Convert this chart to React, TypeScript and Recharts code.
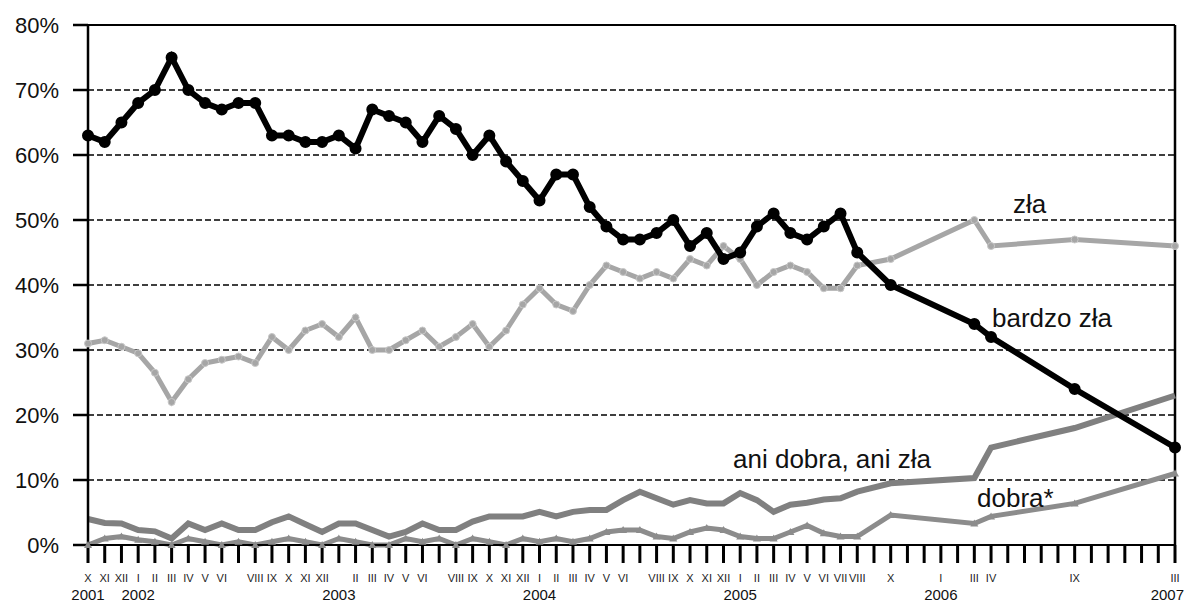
import { LineChart, Line, XAxis, YAxis, CartesianGrid, ReferenceLine } from "recharts"

const months = [
  "X", "XI", "XII", "I", "II", "III", "IV", "V", "VI", "", "VIII", "IX", "X", "XI", "XII",
  "", "II", "III", "IV", "V", "VI", "", "VIII", "IX", "X", "XI", "XII",
  "I", "II", "III", "IV", "V", "VI", "", "VIII", "IX", "X", "XI", "XII",
  "I", "II", "III", "IV", "V", "VI", "VII", "VIII", "", "X", "", "",
  "I", "", "III", "IV", "", "", "", "", "IX", "", "", "", "", "", "III",
]
const yearIdx = [0, 3, 15, 27, 39, 51, 65]
const yearText = ["2001", "2002", "2003", "2004", "2005", "2006", "2007"]

const _ = null
const bardzoZla = [
  63, 62, 65, 68, 70, 75, 70, 68, 67, 68,
  68, 63, 63, 62, 62, 63, 61, 67, 66, 65,
  62, 66, 64, 60, 63, 59, 56, 53, 57, 57,
  52, 49, 47, 47, 48, 50, 46, 48, 44, 45,
  49, 51, 48, 47, 49, 51, 45, _, 40, _,
  _, _, _, 34, 32, _, _, _, _, 24,
  _, _, _, _, _, 15,
]
const zla = [
  31, 31.5, 30.5, 29.5, 26.5, 22, 25.5, 28, 28.5, 29,
  28, 32, 30, 33, 34, 32, 35, 30, 30, 31.5,
  33, 30.5, 32, 34, 30.5, 33, 37, 39.5, 37, 36,
  40, 43, 42, 41, 42, 41, 44, 43, 46, 44,
  40, 42, 43, 42, 39.5, 39.5, 43, _, 44, _,
  _, _, _, 50, 46, _, _, _, _, 47,
  _, _, _, _, _, 46,
]
const aniDobra = [
  4, 3.4, 3.3, 2.3, 2.1, 1, 3.3, 2.3, 3.3, 2.3,
  2.3, 3.5, 4.4, 3.2, 2, 3.3, 3.3, 2.3, 1.3, 2,
  3.3, 2.3, 2.3, 3.6, 4.4, 4.4, 4.4, 5.1, 4.4, 5.1,
  5.4, 5.4, 6.9, 8.2, 7.2, 6.2, 6.9, 6.4, 6.4, 8,
  6.9, 5.1, 6.2, 6.5, 7, 7.2, 8.2, _, 9.5, _,
  _, _, _, 10.3, 15, _, _, _, _, 18,
  _, _, _, _, _, 23,
]
const dobra = [
  0, 1, 1.3, 0.8, 0.5, 0, 1, 0.5, 0, 0.5,
  0, 0.5, 1, 0.5, 0, 1, 0.5, 0, 0, 1,
  0.5, 1, 0, 1, 0.5, 0, 1, 0.5, 1, 0.5,
  1, 2, 2.3, 2.3, 1.3, 1, 2, 2.6, 2.3, 1.3,
  1, 1, 2, 3, 1.8, 1.3, 1.3, _, 4.6, _,
  _, _, _, 3.3, 4.4, _, _, _, _, 6.4,
  _, _, _, _, _, 11,
]
const yTicks = [0, 10, 20, 30, 40, 50, 60, 70, 80]

const data = months.map((m, i) => ({
  i,
  m,
  bardzoZla: bardzoZla[i],
  zla: zla[i],
  aniDobra: aniDobra[i],
  dobra: dobra[i],
}))

const font = "'Liberation Sans', Arial, sans-serif"

function MonthTick(props: any) {
  const { x, y, payload } = props
  const i = payload.value
  const k = yearIdx.indexOf(i)
  const last = i === 65
  return (
    <g>
      <text x={x} y={y + 17} textAnchor="middle" fontSize={11} fontFamily={font} fill="#222">
        {months[i]}
      </text>
      {k >= 0 && (
        <text
          x={last ? 1184 : x}
          y={y + 35}
          textAnchor={last ? "end" : "middle"}
          fontSize={15}
          fontFamily={font}
          fill="#111"
        >
          {yearText[k]}
        </text>
      )}
    </g>
  )
}

function TriangleDot(props: any) {
  const { cx, cy } = props
  if (cx == null || cy == null) return null
  return <path d={`M${cx - 4},${cy + 3} L${cx},${cy - 4} L${cx + 4},${cy + 3} Z`} fill="#8c8c8c" />
}

export default function App() {
  return (
    <div style={{ position: "absolute", left: 0, top: 0, width: 1185, height: 603, background: "#fff" }}>
      <LineChart width={1185} height={603} data={data} margin={{ top: 25, right: 10, bottom: 0, left: 0 }}>
        <CartesianGrid vertical={false} stroke="#000" strokeWidth={1.5} strokeDasharray="6 3" />
        <XAxis
          type="number"
          dataKey="i"
          domain={[0, 65]}
          ticks={months.map((_m, i) => i)}
          interval={0}
          tick={<MonthTick />}
          tickSize={18}
          tickLine={{ stroke: "#000", strokeWidth: 3 }}
          axisLine={{ stroke: "#000", strokeWidth: 2 }}
          height={58}
        />
        <YAxis
          domain={[0, 80]}
          ticks={yTicks}
          tickFormatter={(v) => `${v}%`}
          width={88}
          tickSize={15}
          tickMargin={14}
          tick={{ fontSize: 22, fill: "#111", fontFamily: font }}
          tickLine={{ stroke: "#000", strokeWidth: 2.5 }}
          axisLine={{ stroke: "#000", strokeWidth: 2.5 }}
        />
        <ReferenceLine y={80} stroke="#000" strokeWidth={2} />
        <ReferenceLine x={65} stroke="#000" strokeWidth={2.5} />
        <Line
          dataKey="dobra"
          stroke="#8c8c8c"
          strokeWidth={5}
          dot={<TriangleDot />}
          connectNulls
          isAnimationActive={false}
        />
        <Line
          dataKey="aniDobra"
          stroke="#808080"
          strokeWidth={6}
          dot={false}
          connectNulls
          isAnimationActive={false}
        />
        <Line
          dataKey="zla"
          stroke="#a6a6a6"
          strokeWidth={5}
          dot={{ r: 3.5, fill: "#a6a6a6", stroke: "#c8c8c8", strokeWidth: 1 }}
          connectNulls
          isAnimationActive={false}
        />
        <Line
          dataKey="bardzoZla"
          stroke="#000"
          strokeWidth={6}
          dot={{ r: 3, fill: "#000", stroke: "#000" }}
          connectNulls
          isAnimationActive={false}
        />
      </LineChart>
      <svg width={1185} height={603} style={{ position: "absolute", left: 0, top: 0, pointerEvents: "none" }}>
        <g fontFamily={font} fontSize={26} fill="#111">
          <text x={1013} y={213}>zła</text>
          <text x={992} y={327}>bardzo zła</text>
          <text x={733} y={468}>ani dobra, ani zła</text>
          <text x={977} y={507}>dobra*</text>
        </g>
      </svg>
    </div>
  )
}
